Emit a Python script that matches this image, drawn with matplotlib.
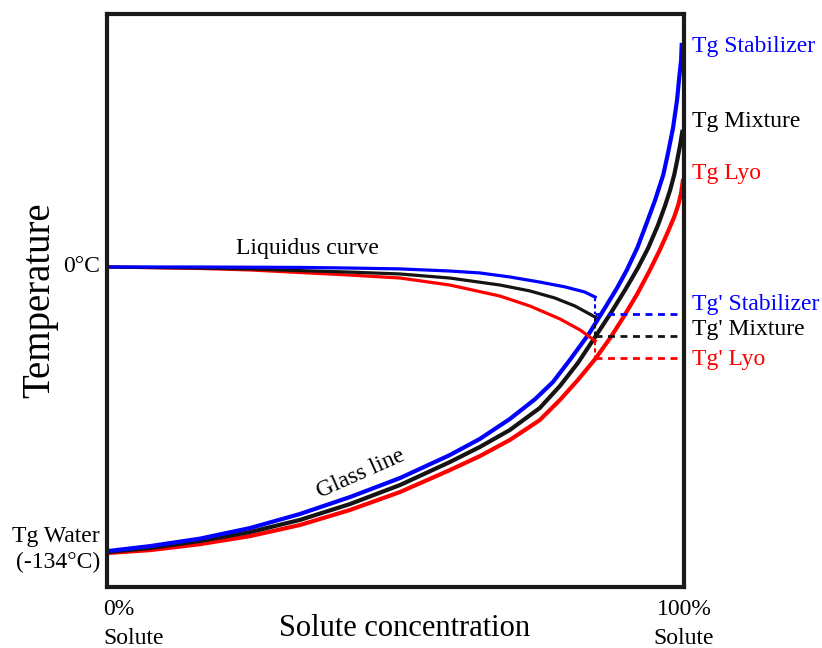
import matplotlib.pyplot as plt

plt.rcParams['font.family'] = ['Liberation Serif', 'DejaVu Serif']

# glass transition lines: solute % vs temperature (degC)
glass_stab_x = [0, 7.5, 16.1, 24.8, 33.4, 42.1, 50.8, 59.4, 64.6, 69.8, 74.2, 77.3, 80.2, 83.5,
                86.3, 88.4, 90.1, 91.9, 93.6, 95.0, 96.4, 97.2, 98.1, 98.8, 99.1, 99.5, 99.6]
glass_stab_t = [-134.0, -131.6, -128.1, -123.1, -116.5, -108.5, -99.5, -88.7, -81.1, -71.7, -62.3,
                -54.2, -43.9, -31.6, -19.3, -9.9, -1.4, 9.0, 21.2, 31.6, 43.4, 53.3, 65.6, 78.8,
                87.3, 97.6, 104.7]

glass_mix_x = [0, 7.5, 16.1, 24.8, 33.4, 42.1, 50.8, 59.4, 64.6, 69.8, 75.0, 78.5, 81.6, 84.6,
               87.2, 89.8, 92.0, 93.8, 95.5, 96.7, 97.6, 98.3, 98.8, 99.3, 99.7]
glass_mix_t = [-134.4, -132.5, -129.2, -125.0, -119.3, -111.8, -102.8, -92.0, -84.9, -76.9, -66.5,
               -56.1, -45.3, -33.0, -22.2, -10.8, -0.5, 9.0, 19.8, 28.8, 36.3, 43.4, 50.0, 57.1, 63.7]

glass_lyo_x = [0, 7.5, 16.1, 24.8, 33.4, 42.1, 50.8, 59.4, 64.6, 69.8, 75.0, 78.5, 81.6, 84.6,
               87.2, 89.4, 91.9, 94.1, 95.8, 97.2, 98.3, 99.0, 99.5, 99.8]
glass_lyo_t = [-134.9, -133.5, -130.7, -126.9, -121.7, -114.6, -106.1, -95.8, -89.2, -81.6, -72.2,
               -62.7, -53.3, -43.4, -33.5, -24.1, -12.7, -1.4, 8.0, 16.5, 23.6, 29.2, 34.9, 40.6]

# liquidus curves
liq_stab_x = [0, 16.1, 33.4, 42.1, 50.8, 59.4, 64.6, 69.8, 75.0, 79.4, 82.8, 84.6]
liq_stab_t = [0, 0, -0.2, -0.5, -0.9, -1.9, -2.8, -4.7, -7.1, -9.4, -11.8, -14.2]

liq_mix_x = [0, 16.1, 24.8, 33.4, 42.1, 50.8, 59.4, 68.1, 73.3, 77.6, 81.1, 84.6]
liq_mix_t = [0, -0.5, -0.9, -1.7, -2.4, -3.3, -5.2, -8.5, -11.3, -14.6, -18.4, -23.6]

liq_lyo_x = [0, 16.1, 24.8, 33.4, 42.1, 50.8, 59.4, 68.1, 73.3, 78.5, 82.0, 84.6]
liq_lyo_t = [0, -0.7, -1.4, -2.6, -3.8, -5.2, -8.5, -13.7, -18.4, -24.5, -29.7, -34.9]

# Tg' values (where liquidus meets glass line)
tgp_x = 84.6
tgp_stab = -22.2
tgp_mix = -32.5
tgp_lyo = -42.9

BLUE = '#0000ff'
BLACK = '#141414'
RED = '#ff0000'

fig = plt.figure(figsize=(8.22, 6.48), dpi=100)
ax = fig.add_axes([107 / 822, 1 - 587 / 648, 577 / 822, 573 / 648])
ax.set_xlim(0, 100)
ax.set_ylim(-150.9, 119.3)
ax.set_xticks([])
ax.set_yticks([])
for s in ax.spines.values():
    s.set_linewidth(3)
    s.set_color('#1a1a1a')

lw = 3.0
ax.plot(glass_lyo_x, glass_lyo_t, color=RED, lw=lw, solid_joinstyle='round')
ax.plot(glass_mix_x, glass_mix_t, color=BLACK, lw=lw, solid_joinstyle='round')
ax.plot(glass_stab_x, glass_stab_t, color=BLUE, lw=lw, solid_joinstyle='round')

ax.plot(liq_lyo_x, liq_lyo_t, color=RED, lw=2.3, solid_joinstyle='round')
ax.plot(liq_mix_x, liq_mix_t, color=BLACK, lw=2.3, solid_joinstyle='round')
ax.plot(liq_stab_x, liq_stab_t, color=BLUE, lw=2.3, solid_joinstyle='round')

# short drops from liquidus end to Tg' and dashed Tg' lines to the axis
for t_end, tg, c in [(liq_stab_t[-1], tgp_stab, BLUE),
                     (liq_mix_t[-1], tgp_mix, BLACK),
                     (liq_lyo_t[-1], tgp_lyo, RED)]:
    ax.plot([tgp_x, tgp_x], [t_end, tg], color=c, lw=1.5, ls=(0, (2, 1.5)))
    ax.plot([tgp_x, 100], [tg, tg], color=c, lw=2, ls=(0, (2.5, 2)), clip_on=False)

fs = 17
ax.text(-1.2, 0, '0°C', ha='right', va='center', fontsize=fs, clip_on=False)
ax.text(-1.2, -133, 'Tg Water\n(-134°C)', ha='right', va='center', fontsize=fs,
        linespacing=1.3, clip_on=False)
ax.text(-0.7, -168.5, '0%\nSolute', ha='left', va='center', fontsize=fs,
        linespacing=1.5, clip_on=False)
ax.text(100, -168.5, '100%\nSolute', ha='center', va='center', fontsize=fs,
        linespacing=1.5, clip_on=False)

ax.text(0.515, -0.072, 'Solute concentration', transform=ax.transAxes,
        ha='center', va='center', fontsize=22)
ax.text(-0.117, 0.5, 'Temperature', transform=ax.transAxes, rotation=90,
        ha='center', va='center', fontsize=28)

ax.text(34.8, 8.8, 'Liquidus curve', ha='center', va='center', fontsize=fs)
ax.text(43.9, -97.5, 'Glass line', ha='center', va='center', fontsize=fs, rotation=24)

rx = 101.4
ax.text(rx, 104.2, 'Tg Stabilizer', color=BLUE, ha='left', va='center', fontsize=fs, clip_on=False)
ax.text(rx, 68.4, 'Tg Mixture', color='black', ha='left', va='center', fontsize=fs, clip_on=False)
ax.text(rx, 44.3, 'Tg Lyo', color=RED, ha='left', va='center', fontsize=fs, clip_on=False)
ax.text(rx, -17.9, "Tg' Stabilizer", color=BLUE, ha='left', va='center', fontsize=fs, clip_on=False)
ax.text(rx, -29.7, "Tg' Mixture", color='black', ha='left', va='center', fontsize=fs, clip_on=False)
ax.text(rx, -43.4, "Tg' Lyo", color=RED, ha='left', va='center', fontsize=fs, clip_on=False)

fig.savefig('out.png', dpi=100)
